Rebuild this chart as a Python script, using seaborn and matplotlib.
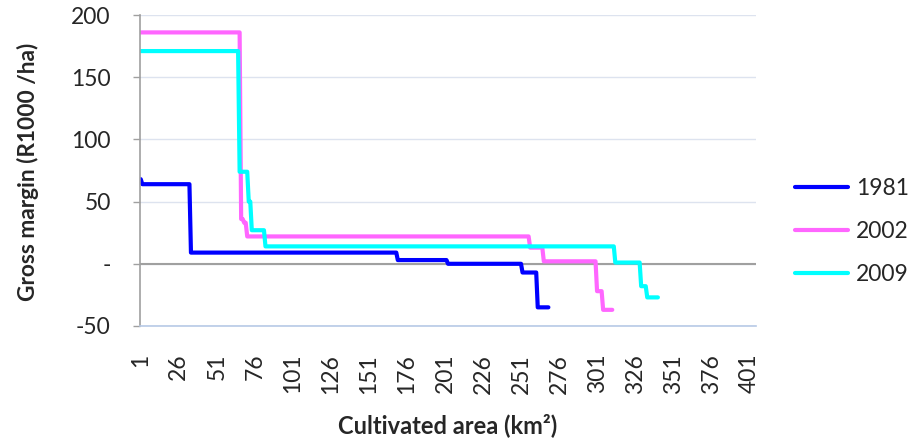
import numpy as np
import pandas as pd
import matplotlib
matplotlib.use("Agg")
import matplotlib.pyplot as plt
import seaborn as sns

# ---- data (step levels: first category of each level, level value) ----
years = ["1981", "2002", "2009"]
starts_1981 = [1, 2, 34, 170, 203, 252, 262]
values_1981 = [68, 64, 9, 3, 0, -7, -35]
end_1981 = 269

starts_2002 = [1, 67, 69, 71, 257, 266, 301, 305]
values_2002 = [186, 36, 33, 22, 13, 2, -22, -37]
end_2002 = 311

starts_2009 = [1, 66, 72, 74, 83, 313, 330, 334]
values_2009 = [171, 74, 50, 27, 14, 1, -18, -27]
end_2009 = 341

n_categories = 405
tick_cats = list(range(1, 402, 25))
y_ticks = [-50, 0, 50, 100, 150, 200]
y_ticklabels = ["-50", "-", "50", "100", "150", "200"]
colors = {"1981": "#0000FF", "2002": "#FF66FF", "2009": "#00FFFF"}


def expand(starts, values, end):
    x = np.arange(1, end + 1)
    idx = np.searchsorted(starts, x, side="right") - 1
    return x, np.asarray(values)[idx]


frames = []
for yr, (s, v, e) in zip(years, [(starts_1981, values_1981, end_1981),
                                 (starts_2002, values_2002, end_2002),
                                 (starts_2009, values_2009, end_2009)]):
    x, y = expand(s, v, e)
    frames.append(pd.DataFrame({"area": x, "margin": y, "year": yr}))
df = pd.concat(frames, ignore_index=True)

sns.set_style("white")
plt.rcParams["font.family"] = ["Lato", "DejaVu Sans"]

W, H = 919, 447
fig = plt.figure(figsize=(W / 100, H / 100), dpi=100)
L, R, T, B = 140, 756, 15, 326
ax = fig.add_axes([L / W, 1 - B / H, (R - L) / W, (B - T) / H])

sns.lineplot(data=df, x="area", y="margin", hue="year", palette=colors,
             hue_order=years, estimator=None, linewidth=3.0, ax=ax,
             solid_capstyle="round", solid_joinstyle="round")

ax.set_xlim(0.5, n_categories + 0.5)
ax.set_ylim(-50, 200)

ax.set_yticks(y_ticks)
ax.set_yticklabels(y_ticklabels)
ax.set_xticks(tick_cats)
ax.set_xticklabels([str(t) for t in tick_cats], rotation=90, va="top", ha="center")

ax.yaxis.grid(True, color="#dde3ef", lw=1.0, zorder=0)
ax.xaxis.grid(False)
ax.set_axisbelow(True)
ax.axhline(0, color="#a0a0a0", lw=1.5, zorder=1.5)

for s in ["top", "right"]:
    ax.spines[s].set_visible(False)
ax.spines["left"].set_color("#a0a0a0")
ax.spines["left"].set_linewidth(1.2)
ax.spines["bottom"].set_color("#b7c9e6")
ax.spines["bottom"].set_linewidth(1.2)

ax.tick_params(axis="y", which="both", length=5, width=1.0, color="#a0a0a0",
               pad=16, labelsize=16.5, left=True)
ax.tick_params(axis="x", length=0, pad=20, labelsize=16.5)

ax.set_xlabel("Cultivated area (km²)", fontsize=17, fontweight="bold")
ax.set_ylabel("Gross margin (R1000 /ha)", fontsize=16.3, fontweight="bold")
ax.xaxis.label.set_va("center")
ax.yaxis.label.set_va("center")
ax.xaxis.set_label_coords((448 - L) / (R - L), (B - 425) / (B - T))
ax.yaxis.set_label_coords((28 - L) / (R - L), (B - 172) / (B - T))

handles, labels = ax.get_legend_handles_labels()
ax.legend(handles, labels, loc="center left", bbox_to_anchor=(795 / W, 1 - 231.5 / H),
          bbox_transform=fig.transFigure, frameon=False, fontsize=16.5,
          handlelength=2.3, handletextpad=0.35, labelspacing=0.95, borderpad=0,
          borderaxespad=0)

fig.savefig("out.png", dpi=100)
